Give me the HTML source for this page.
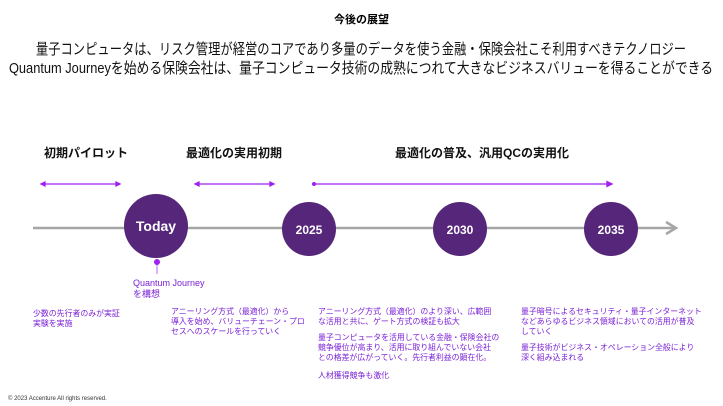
<!DOCTYPE html>
<html><head><meta charset="utf-8"><style>
body{margin:0;width:723px;height:406px;background:#fff;position:relative;overflow:hidden;font-family:"Liberation Sans","Noto Sans CJK JP",sans-serif}
.t{position:absolute;white-space:nowrap}
.h{font-weight:bold;font-size:12px;color:#111}
.p{color:#7a1fd6;font-size:7.9px;line-height:10px}
.c{left:0;width:723px;text-align:center}
.m{position:absolute;left:361px;white-space:nowrap;font-size:15px;color:#111}
</style></head><body>
<svg width="723" height="406" style="position:absolute;left:0;top:0">
<line x1="33" y1="228" x2="674" y2="228" stroke="#a6a6a6" stroke-width="2.5"/>
<polyline points="666,222 676,228 666,234" fill="none" stroke="#a6a6a6" stroke-width="2.5"/>
<g stroke="#a020f0" stroke-width="1.3" fill="#a020f0">
<line x1="42" y1="184" x2="119" y2="184"/><polygon points="41,184 45,182 45,186"/><polygon points="120,184 116,182 116,186"/>
<line x1="196" y1="184" x2="273" y2="184"/><polygon points="195,184 199,182 199,186"/><polygon points="274,184 270,182 270,186"/>
<circle cx="314" cy="184" r="2" stroke="none"/><line x1="314" y1="184" x2="608" y2="184"/><polygon points="612,184 607,181.5 607,186.5"/>
<line x1="157" y1="262" x2="157" y2="274" stroke="#c58cf0"/><circle cx="157" cy="262" r="3" stroke="none"/>
</g>
<g fill="#55267a">
<circle cx="156" cy="226" r="32"/><circle cx="309" cy="229" r="27"/><circle cx="460" cy="229" r="27"/><circle cx="611" cy="229" r="27"/>
</g>
<g fill="#fff" font-weight="bold" font-family="Liberation Sans" text-anchor="middle">
<text x="156" y="231" font-size="14">Today</text>
<text x="309" y="234" font-size="12">2025</text>
<text x="460" y="234" font-size="12">2030</text>
<text x="611" y="234" font-size="12">2035</text>
</g>
</svg>
<div class="t c" style="top:11px;font-size:11px;font-weight:bold">今後の展望</div>
<div class="m" style="top:38px;transform:translateX(-50%) scaleX(0.82)">量子コンピュータは、リスク管理が経営のコアであり多量のデータを使う金融・保険会社こそ利用すべきテクノロジー</div>
<div class="m" style="top:57px;transform:translateX(-50%) scaleX(0.855)">Quantum Journeyを始める保険会社は、量子コンピュータ技術の成熟につれて大きなビジネスバリューを得ることができる</div>
<div class="t h" style="left:44px;top:144px">初期パイロット</div>
<div class="t h" style="left:186px;top:144px">最適化の実用初期</div>
<div class="t h" style="left:395px;top:144px">最適化の普及、汎用QCの実用化</div>
<div class="t p" style="left:133px;top:278px;font-size:9px;line-height:11px">Quantum Journey<br>を構想</div>
<div class="t p" style="left:33px;top:309px">少数の先行者のみが実証<br>実験を実施</div>
<div class="t p" style="left:171px;top:307px">アニーリング方式（最適化）から<br>導入を始め、バリューチェーン・プロ<br>セスへのスケールを行っていく</div>
<div class="t p" style="left:318px;top:307px">アニーリング方式（最適化）のより深い、広範囲<br>な活用と共に、ゲート方式の検証も拡大</div>
<div class="t p" style="left:318px;top:333px">量子コンピュータを活用している金融・保険会社の<br>競争優位が高まり、活用に取り組んでいない会社<br>との格差が広がっていく。先行者利益の顕在化。</div>
<div class="t p" style="left:318px;top:371px">人材獲得競争も激化</div>
<div class="t p" style="left:521px;top:307px">量子暗号によるセキュリティ・量子インターネット<br>などあらゆるビジネス領域においての活用が普及<br>していく</div>
<div class="t p" style="left:521px;top:343px">量子技術がビジネス・オペレーション全般により<br>深く組み込まれる</div>
<div class="t" style="left:8px;top:396px;font-size:6px;color:#333">© 2023 Accenture  All rights reserved.</div>
</body></html>
